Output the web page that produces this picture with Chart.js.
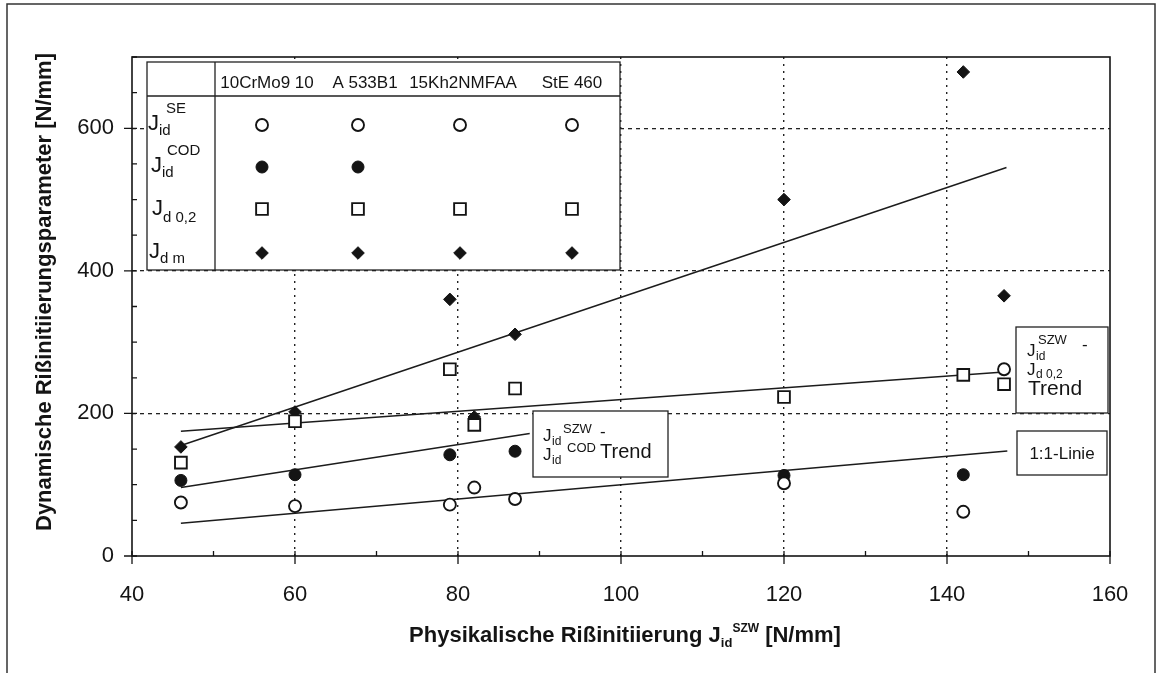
<!DOCTYPE html>
<html>
<head>
<meta charset="utf-8">
<script src="https://cdn.jsdelivr.net/npm/chart.js@4.4.1/dist/chart.umd.min.js"></script>
<style>
  html, body { margin: 0; padding: 0; background: #fff; }
  #wrap { width: 1162px; height: 673px; position: relative; }
</style>
</head>
<body>
<div id="wrap"><canvas id="chart" width="1162" height="673"></canvas></div>
<script>
// measured initiation values, x = J_id^SZW [N/mm]
const xSE  = [46, 60, 79, 82, 87, 120, 142, 147];
const ySE  = [75, 70, 72, 96, 80, 102, 62, 262];
const xCOD = [46, 60, 79, 87, 120, 142];
const yCOD = [106, 114, 142, 147, 113, 114];
const xD02 = [46, 60, 79, 82, 87, 120, 142, 147];
const yD02 = [131, 189, 262, 184, 235, 223, 254, 241];
const xDm  = [46, 60, 79, 82, 87, 120, 142, 147];
const yDm  = [153, 202, 360, 195, 311, 500, 679, 365];

// trend lines (start / end)
const trendDmX  = [46, 147.3];
const trendDmY  = [155, 545];
const trendD02X = [46, 147];
const trendD02Y = [175, 258];
const trendCodX = [46, 88.8];
const trendCodY = [96, 172];
const line11X   = [46, 147.4];
const line11Y   = [46, 147.4];

const materials = ['10CrMo9 10', 'A 533B1', '15Kh2NMFAA', 'StE 460'];
// which material has which parameter (rows: SE, COD, d0,2, dm)
const tested = [[1, 1, 1, 1], [1, 1, 0, 0], [1, 1, 1, 1], [1, 1, 1, 1]];

const xTicks = [40, 60, 80, 100, 120, 140, 160];
const yTicks = [0, 200, 400, 600];

const INK = '#141414';
const FONT = '"Liberation Sans", Arial, sans-serif';

const pts = (xs, ys) => xs.map((x, i) => ({ x: x, y: ys[i] }));

const markers = {
  se:  { pointStyle: 'circle',  radius: 6,   fill: '#fff', border: 1.9 },
  cod: { pointStyle: 'circle',  radius: 6,   fill: INK,    border: 1 },
  d02: { pointStyle: 'rect',    radius: 8.3, fill: '#fff', border: 1.9 },
  dm:  { pointStyle: 'rectRot', radius: 6.3, fill: INK,    border: 1 },
};

function trend(xs, ys) {
  return {
    data: pts(xs, ys), showLine: true, borderColor: '#1c1c1c', borderWidth: 1.5,
    pointRadius: 0, pointHoverRadius: 0, order: 5
  };
}
function scatter(xs, ys, m) {
  return {
    data: pts(xs, ys), showLine: false, pointStyle: m.pointStyle,
    pointRadius: m.radius, pointHoverRadius: m.radius,
    pointBackgroundColor: m.fill, pointBorderColor: INK, pointBorderWidth: m.border,
    order: 1
  };
}

function txt(ctx, s, x, y, size, opts) {
  opts = opts || {};
  ctx.font = (opts.bold ? 'bold ' : '') + size + 'px ' + FONT;
  ctx.textAlign = opts.align || 'left';
  ctx.textBaseline = opts.baseline || 'alphabetic';
  ctx.fillStyle = INK;
  ctx.fillText(s, x, y);
  return ctx.measureText(s).width;
}

function box(ctx, l, t, r, b) {
  ctx.fillStyle = '#fff';
  ctx.fillRect(l, t, r - l, b - t);
  ctx.strokeStyle = '#222';
  ctx.lineWidth = 1.3;
  ctx.strokeRect(l, t, r - l, b - t);
}

function marker(ctx, m, x, y) {
  ctx.save();
  ctx.fillStyle = m.fill;
  ctx.strokeStyle = INK;
  ctx.lineWidth = m.border;
  Chart.helpers.drawPoint(ctx, { pointStyle: m.pointStyle, radius: m.radius, borderWidth: m.border, rotation: 0 }, x, y);
  ctx.restore();
}

const decor = {
  id: 'decor',
  beforeDraw(chart) {
    const ctx = chart.ctx;
    ctx.save();
    ctx.fillStyle = '#fff';
    ctx.fillRect(0, 0, chart.width, chart.height);
    // outer frame of the figure
    ctx.strokeStyle = '#333';
    ctx.lineWidth = 1.5;
    ctx.strokeRect(7, 4, 1148, 700);
    ctx.restore();
  },
  afterDatasetsDraw(chart) {
    const ctx = chart.ctx;
    const xs = chart.scales.x, ys = chart.scales.y;
    const a = chart.chartArea;
    ctx.save();

    // plot frame
    ctx.strokeStyle = INK;
    ctx.lineWidth = 1.6;
    ctx.strokeRect(a.left, a.top, a.right - a.left, a.bottom - a.top);

    // tick marks: major cross the axis, minor point inwards
    ctx.lineWidth = 1.3;
    ctx.beginPath();
    for (let v = 40; v <= 160; v += 10) {
      const px = xs.getPixelForValue(v);
      if (v % 20 === 0) { ctx.moveTo(px, a.bottom + 8); ctx.lineTo(px, a.bottom - 5); }
      else { ctx.moveTo(px, a.bottom); ctx.lineTo(px, a.bottom - 5); }
    }
    for (let v = 0; v <= 700; v += 50) {
      const py = ys.getPixelForValue(v);
      if (v % 200 === 0) { ctx.moveTo(a.left - 8, py); ctx.lineTo(a.left + 5, py); }
      else { ctx.moveTo(a.left, py); ctx.lineTo(a.left + 5, py); }
    }
    ctx.stroke();

    // legend table
    const T = { l: 147, t: 62, r: 620, b: 270, col: 215, head: 96 };
    box(ctx, T.l, T.t, T.r, T.b);
    ctx.beginPath();
    ctx.moveTo(T.col, T.t); ctx.lineTo(T.col, T.b);
    ctx.moveTo(T.l, T.head); ctx.lineTo(T.r, T.head);
    ctx.stroke();
    const headX = [267, 365, 463, 572];
    materials.forEach((m, i) => txt(ctx, m, headX[i], 88, 17, { align: 'center' }));

    txt(ctx, 'J', 148, 130, 22); txt(ctx, 'id', 159, 135, 15); txt(ctx, 'SE', 166, 113, 15);
    txt(ctx, 'J', 151, 172, 22); txt(ctx, 'id', 162, 177, 15); txt(ctx, 'COD', 167, 155, 15);
    txt(ctx, 'J', 152, 215, 22); txt(ctx, 'd 0,2', 163, 222, 15);
    txt(ctx, 'J', 149, 258, 22); txt(ctx, 'd m', 160, 263, 15);

    const colX = [262, 358, 460, 572];
    const rowY = [125, 167, 209, 253];
    const rowM = [markers.se, markers.cod, markers.d02, markers.dm];
    tested.forEach((row, r) => row.forEach((on, c) => { if (on) marker(ctx, rowM[r], colX[c], rowY[r]); }));

    // trend labels
    box(ctx, 533, 411, 668, 477);
    txt(ctx, 'J', 543, 441, 17); txt(ctx, 'id', 552, 445, 12); txt(ctx, 'SZW', 563, 433, 13);
    txt(ctx, '-', 600, 437, 17);
    txt(ctx, 'J', 543, 460, 17); txt(ctx, 'id', 552, 464, 12); txt(ctx, 'COD', 567, 452, 13);
    txt(ctx, 'Trend', 600, 458, 20);

    box(ctx, 1016, 327, 1108, 413);
    txt(ctx, 'J', 1027, 356, 17); txt(ctx, 'id', 1036, 360, 12); txt(ctx, 'SZW', 1038, 344, 13);
    txt(ctx, '-', 1082, 350, 17);
    txt(ctx, 'J', 1027, 375, 17); txt(ctx, 'd 0,2', 1036, 378, 12);
    txt(ctx, 'Trend', 1028, 395, 21);

    box(ctx, 1017, 431, 1107, 475);
    txt(ctx, '1:1-Linie', 1062, 459, 17, { align: 'center' });

    // axis titles
    ctx.save();
    ctx.translate(45, 292);
    ctx.rotate(-Math.PI / 2);
    txt(ctx, 'Dynamische Rißinitiierungsparameter [N/mm]', 0, 0, 22, { bold: true, align: 'center', baseline: 'middle' });
    ctx.restore();

    const parts = [
      ['Physikalische Rißinitiierung J', 22, 0],
      ['id', 13, 5],
      ['SZW', 12, -10],
      [' [N/mm]', 22, 0],
    ];
    let w = 0;
    parts.forEach(p => { ctx.font = 'bold ' + p[1] + 'px ' + FONT; w += ctx.measureText(p[0]).width; });
    let x = 625 - w / 2;
    parts.forEach(p => { x += txt(ctx, p[0], x, 642 + p[2], p[1], { bold: true }); });

    ctx.restore();
  }
};

new Chart(document.getElementById('chart'), {
  type: 'scatter',
  data: {
    datasets: [
      trend(trendDmX, trendDmY),
      trend(trendD02X, trendD02Y),
      trend(trendCodX, trendCodY),
      trend(line11X, line11Y),
      scatter(xSE, ySE, markers.se),
      scatter(xCOD, yCOD, markers.cod),
      scatter(xD02, yD02, markers.d02),
      scatter(xDm, yDm, markers.dm),
    ]
  },
  options: {
    responsive: false,
    animation: false,
    devicePixelRatio: 1,
    layout: { padding: { left: 0, top: 57, right: 52, bottom: 0 } },
    plugins: { legend: { display: false }, tooltip: { enabled: false } },
    scales: {
      x: {
        type: 'linear', min: 40, max: 160,
        afterFit: s => { s.height = 117; },
        afterBuildTicks: s => { s.ticks = xTicks.map(v => ({ value: v })); },
        ticks: { color: INK, padding: 26, font: { family: FONT, size: 22 } },
        grid: {
          drawTicks: false,
          color: c => (c.tick && c.tick.value > 40 && c.tick.value < 160) ? '#222' : 'rgba(0,0,0,0)',
          lineWidth: 1.4
        },
        border: { display: false, dash: [2, 5] }
      },
      y: {
        type: 'linear', min: 0, max: 700,
        afterFit: s => { s.width = 132; },
        afterBuildTicks: s => { s.ticks = yTicks.concat([700]).map(v => ({ value: v })); },
        ticks: { color: INK, padding: 18, font: { family: FONT, size: 22 }, callback: v => (v === 700 ? '' : v) },
        grid: {
          drawTicks: false,
          color: c => (c.tick && c.tick.value > 0 && c.tick.value < 700) ? '#222' : 'rgba(0,0,0,0)',
          lineWidth: 1.3
        },
        border: { display: false, dash: [4, 4] }
      }
    }
  },
  plugins: [decor]
});
</script>
</body>
</html>
